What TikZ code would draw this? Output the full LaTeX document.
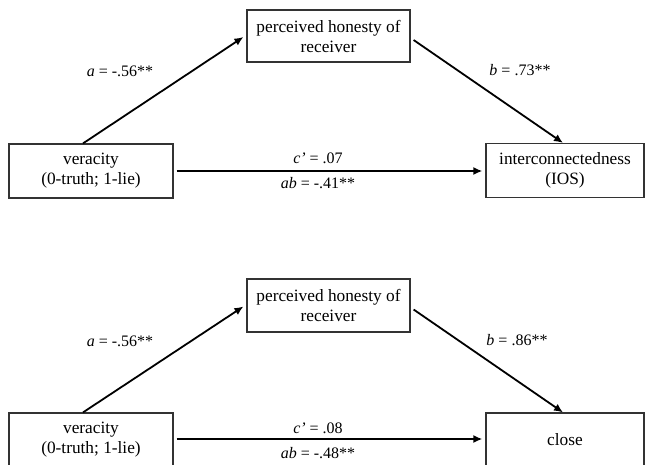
\documentclass[tikz,border=0pt]{standalone}
\usepackage{fontspec}
\setmainfont{Liberation Serif}
\usetikzlibrary{arrows.meta,calc}
\begin{document}
\begin{tikzpicture}[x=1pt,y=-1pt,
  varbox/.style={draw=black!80,line width=1.2pt,align=center,inner sep=0pt,
    font=\fontsize{17.3}{20}\selectfont},
  path/.style={line width=1.8pt,-{Latex[length=9pt,width=8pt]}},
  coef/.style={font=\fontsize{16}{19}\selectfont,inner sep=0pt}]
\useasboundingbox (0,0) rectangle (645,464);
% ---------- top model ----------
\node[varbox,minimum width=163pt,minimum height=52pt] (med1) at (328.5,36) {perceived honesty of\\receiver};
\node[varbox,minimum width=164pt,minimum height=54pt] (ver1) at (91,171) {veracity\\(0-truth; 1-lie)};
\node[varbox,minimum width=158pt,minimum height=54pt] (out1) at (565,170.5) {interconnectedness\\(IOS)};
\draw[path] ($(ver1.north)+(-8,0)$) -- ($(med1.west)+(-3,1)$);
\draw[path] ($(med1.east)+(3,4)$) -- ($(out1.north)+(-2,0)$);
\draw[path] ($(ver1.east)+(3,0)$) -- ($(out1.west)+(-3,0.5)$);
\node[coef] (a1) at (120,71) {\textit{a} = -.56**};
\node[coef] (b1) at (520,70) {\textit{b} = .73**};
\node[coef] (c1) at (318,158) {\textit{c’} = .07};
\node[coef] (ab1) at (318,183) {\textit{ab} = -.41**};
% ---------- bottom model ----------
\node[varbox,minimum width=163pt,minimum height=53pt] (med2) at (328.5,305.5) {perceived honesty of\\receiver};
\node[varbox,minimum width=164pt,minimum height=54pt] (ver2) at (91,440) {veracity\\(0-truth; 1-lie)};
\node[varbox,minimum width=158pt,minimum height=54pt] (out2) at (565,440) {close};
\draw[path] ($(ver2.north)+(-8,0)$) -- ($(med2.west)+(-3,1)$);
\draw[path] ($(med2.east)+(3,4)$) -- ($(out2.north)+(-2,0)$);
\draw[path] ($(ver2.east)+(3,-1)$) -- ($(out2.west)+(-3,-1)$);
\node[coef] (a2) at (120,341) {\textit{a} = -.56**};
\node[coef] (b2) at (517,340) {\textit{b} = .86**};
\node[coef] (c2) at (318,428) {\textit{c’} = .08};
\node[coef] (ab2) at (318,453) {\textit{ab} = -.48**};
\end{tikzpicture}
\end{document}
